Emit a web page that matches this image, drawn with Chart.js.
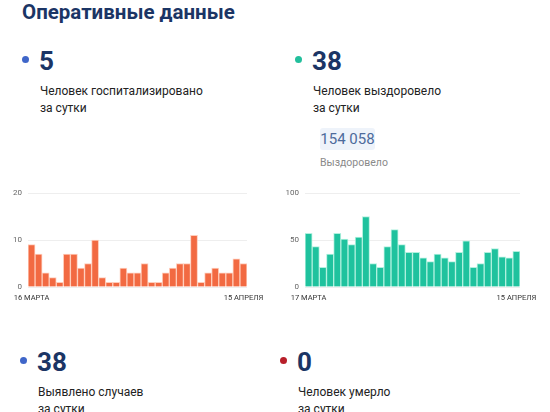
<!DOCTYPE html>
<html><head><meta charset="utf-8">
<script src="https://cdn.jsdelivr.net/npm/chart.js@4/dist/chart.umd.min.js"></script>
<style>
html,body{margin:0;padding:0;background:#fff;width:550px;height:412px;overflow:hidden;font-family:Roboto,"Noto Sans",sans-serif;}
.t{position:absolute;white-space:nowrap;}
.title{left:22px;top:2px;font-size:20.5px;line-height:20px;font-weight:700;color:#1b3565;}
.num{font-size:26px;line-height:26px;font-weight:700;color:#1b3565;}
.dot{position:absolute;width:7px;height:7px;border-radius:50%;}
.desc{font-size:12px;line-height:17px;color:#222;}
.box{position:absolute;left:320px;top:128px;width:55px;height:22px;background:#eef3fa;border-radius:3px;font-size:15px;line-height:22px;color:#4d6b9c;text-align:center;}
.sub{font-size:10.5px;line-height:14px;color:#8a8a8a;}
canvas{position:absolute;}
#wrapL,#wrapR{position:absolute;}
</style></head>
<body>
<div class="t title">Оперативные данные</div>

<div class="dot" style="left:22px;top:56px;background:#3f66c9"></div>
<div class="t num" style="left:39px;top:48px">5</div>
<div class="t desc" style="left:40px;top:83px">Человек госпитализировано<br>за сутки</div>

<div class="dot" style="left:295px;top:56px;background:#22bf9c"></div>
<div class="t num" style="left:312px;top:48px">38</div>
<div class="t desc" style="left:313px;top:83px">Человек выздоровело<br>за сутки</div>
<div class="box">154 058</div>
<div class="t sub" style="left:320px;top:156px">Выздоровело</div>

<div id="wrapL" style="left:0;top:180px;width:275px;height:130px"><canvas id="cL"></canvas></div>
<div id="wrapR" style="left:275px;top:180px;width:275px;height:130px"><canvas id="cR"></canvas></div>

<div class="dot" style="left:20px;top:357px;background:#3f66c9"></div>
<div class="t num" style="left:37px;top:349px">38</div>
<div class="t desc" style="left:38px;top:384px">Выявлено случаев<br>за сутки</div>

<div class="dot" style="left:280px;top:357px;background:#b81f2a"></div>
<div class="t num" style="left:297px;top:349px">0</div>
<div class="t desc" style="left:298px;top:384px">Человек умерло<br>за сутки</div>

<script>
const hospDates = ["16 МАРТА","17 МАРТА","18 МАРТА","19 МАРТА","20 МАРТА","21 МАРТА","22 МАРТА","23 МАРТА","24 МАРТА","25 МАРТА","26 МАРТА","27 МАРТА","28 МАРТА","29 МАРТА","30 МАРТА","31 МАРТА","1 АПРЕЛЯ","2 АПРЕЛЯ","3 АПРЕЛЯ","4 АПРЕЛЯ","5 АПРЕЛЯ","6 АПРЕЛЯ","7 АПРЕЛЯ","8 АПРЕЛЯ","9 АПРЕЛЯ","10 АПРЕЛЯ","11 АПРЕЛЯ","12 АПРЕЛЯ","13 АПРЕЛЯ","14 АПРЕЛЯ","15 АПРЕЛЯ"];
const hospValues = [9,7,3,2,1,7,7,4,5,10,2,1,1,4,3,3,5,1,1,3,4,5,5,11,1,3,4,3,3,6,5];
const hospTicks = [0,10,20];

const recDates = ["17 МАРТА","18 МАРТА","19 МАРТА","20 МАРТА","21 МАРТА","22 МАРТА","23 МАРТА","24 МАРТА","25 МАРТА","26 МАРТА","27 МАРТА","28 МАРТА","29 МАРТА","30 МАРТА","31 МАРТА","1 АПРЕЛЯ","2 АПРЕЛЯ","3 АПРЕЛЯ","4 АПРЕЛЯ","5 АПРЕЛЯ","6 АПРЕЛЯ","7 АПРЕЛЯ","8 АПРЕЛЯ","9 АПРЕЛЯ","10 АПРЕЛЯ","11 АПРЕЛЯ","12 АПРЕЛЯ","13 АПРЕЛЯ","14 АПРЕЛЯ","15 АПРЕЛЯ"];
const recValues = [57,43,21,35,57,51,45,53,75,25,21,43,61,45,37,37,31,27,35,31,27,37,49,21,25,37,41,32,31,38];
const recTicks = [0,50,100];

function makeChart(id, labels, values, ticks, color, border, yWidth, pad) {
  new Chart(document.getElementById(id), {
    type: 'bar',
    data: { labels: labels, datasets: [{ data: values, backgroundColor: color, borderColor: border, borderWidth: 1, barPercentage: 1, categoryPercentage: 1 }] },
    options: {
      responsive: true, maintainAspectRatio: false, animation: false,
      layout: { padding: pad },
      plugins: { legend: { display: false }, tooltip: { enabled: false } },
      scales: {
        x: {
          grid: { display: false, drawTicks: false }, border: { display: false },
          ticks: { autoSkip: false, maxRotation: 0, minRotation: 0, padding: 7, color: '#333', font: { family: 'Roboto', size: 7.5 },
            callback: function(v, i) { return (i === 0 || i === labels.length - 1) ? labels[i] : ''; } }
        },
        y: {
          min: ticks[0], max: ticks[ticks.length - 1],
          afterBuildTicks: s => { s.ticks = ticks.map(v => ({ value: v })); },
          afterFit: s => { s.width = yWidth; },
          grid: { color: '#eeeeee', drawTicks: false }, border: { display: false },
          ticks: { padding: 6, color: '#666', font: { family: 'Roboto', size: 8 } }
        }
      }
    }
  });
}
makeChart('cL', hospDates, hospValues, hospTicks, '#f26a42', 'rgba(255,200,180,0.9)', 28, { top: 13, right: 28, bottom: 0, left: 0 });
makeChart('cR', recDates, recValues, recTicks, '#1fc29e', 'rgba(170,240,220,0.9)', 30, { top: 13, right: 30, bottom: 0, left: 0 });
</script>
</body></html>
